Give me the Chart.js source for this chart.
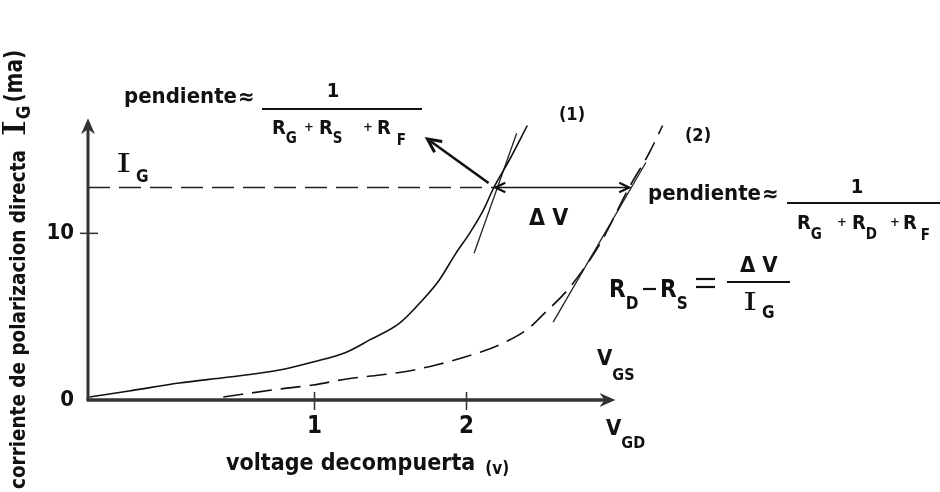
<!DOCTYPE html>
<html>
<head>
<meta charset="utf-8">
<script src="https://cdn.jsdelivr.net/npm/chart.js@4.4.1/dist/chart.umd.min.js"></script>
<style>
  html, body { margin: 0; padding: 0; background: #fff; }
  #wrap { width: 940px; height: 492px; }
</style>
</head>
<body>
<div id="wrap"><canvas id="mycanvas" width="940" height="492"></canvas></div>
<script>
// curva (1): corriente de compuerta contra V_GS
var curve1_v = [-0.48, -0.22, 0.11, 0.44, 0.77, 0.99, 1.21, 1.36, 1.56, 1.71, 1.82, 1.93, 2.02, 2.11, 2.18, 2.28, 2.40];
var curve1_i = [0.18, 0.54, 1.02, 1.38, 1.80, 2.28, 2.87, 3.59, 4.61, 5.99, 7.19, 8.80, 10.0, 11.38, 12.75, 14.37, 16.47];

// curva (2): corriente de compuerta contra V_GD
var curve2_v = [0.40, 0.77, 0.99, 1.21, 1.43, 1.58, 1.80, 2.09, 2.24, 2.41, 2.50, 2.68, 2.88, 3.07, 3.20, 3.29];
var curve2_i = [0.18, 0.66, 0.90, 1.26, 1.50, 1.68, 2.10, 2.87, 3.41, 4.31, 5.09, 6.77, 9.40, 12.75, 14.79, 16.47];

// tangentes (pendientes) en el punto I_G
var tangent1_v = [2.05, 2.33];
var tangent1_i = [8.8, 16.0];
var tangent2_v = [2.57, 3.18];
var tangent2_i = [4.67, 14.25];

// nivel de corriente I_G y el salto de voltaje entre las dos curvas
var ig_level = 12.75;
var deltav_v = [2.19, 3.07];
var pointer_v = [2.145, 1.743];
var pointer_i = [13.02, 15.66];

var x_ticks = [1, 2];
var y_ticks = [0, 10];
var x_axis_end = 2.98;
var y_axis_end = 16.9;

var F = "'Liberation Sans Narrow', 'DejaVu Sans Condensed', sans-serif";

function pts(xs, ys) {
	return xs.map(function(v, k) { return { x: v, y: ys[k] }; });
}

function line(ctx, x1, y1, x2, y2, w) {
	ctx.lineWidth = w;
	ctx.beginPath();
	ctx.moveTo(x1, y1);
	ctx.lineTo(x2, y2);
	ctx.stroke();
}

// open arrow head at (x, y) pointing along angle a
function chevron(ctx, x, y, a, len, w) {
	ctx.lineWidth = w;
	ctx.beginPath();
	ctx.moveTo(x - len * Math.cos(a - 0.45), y - len * Math.sin(a - 0.45));
	ctx.lineTo(x, y);
	ctx.lineTo(x - len * Math.cos(a + 0.45), y - len * Math.sin(a + 0.45));
	ctx.stroke();
}

function txt(ctx, s, x, y, size, align) {
	ctx.font = 'bold ' + size + 'px ' + F;
	ctx.textAlign = align || 'left';
	ctx.textBaseline = 'alphabetic';
	ctx.fillText(s, x, y);
	return ctx.measureText(s).width;
}

// letter with subscript right after it, returns total width
function sub(ctx, s, b, x, y, size, bsize, drop, gap) {
	var w = txt(ctx, s, x, y, size) + (gap || 0);
	return w + txt(ctx, b, x + w, y + drop, bsize);
}

// the serif "I" used for I_G
function bigI(ctx, x, y, size) {
	ctx.save();
	ctx.translate(x, y);
	ctx.scale(1.5, 1);
	ctx.font = size + "px 'DejaVu Serif'";
	ctx.textAlign = 'left';
	ctx.textBaseline = 'alphabetic';
	ctx.fillText('I', 0, 0);
	var w = ctx.measureText('I').width * 1.5;
	ctx.restore();
	return w;
}

var sketch = {
	id: 'sketch',
	afterDatasetsDraw: function(chart) {
		var ctx = chart.ctx;
		var xs = chart.scales.x, ys = chart.scales.y;
		var x0 = xs.getPixelForValue(xs.min), y0 = ys.getPixelForValue(0);
		var xe = xs.getPixelForValue(x_axis_end), ye = ys.getPixelForValue(y_axis_end);

		ctx.save();
		ctx.strokeStyle = '#333';
		ctx.fillStyle = '#333';
		ctx.lineCap = 'butt';

		// ejes
		line(ctx, x0, y0, x0, ye + 6, 3);
		line(ctx, x0 - 1.5, y0, xe - 6, y0, 3.5);
		ctx.beginPath();
		ctx.moveTo(x0, ye);
		ctx.lineTo(x0 - 7, ye + 16);
		ctx.lineTo(x0, ye + 11);
		ctx.lineTo(x0 + 7, ye + 16);
		ctx.closePath();
		ctx.fill();
		ctx.beginPath();
		ctx.moveTo(xe, y0);
		ctx.lineTo(xe - 16, y0 - 7);
		ctx.lineTo(xe - 11, y0);
		ctx.lineTo(xe - 16, y0 + 7);
		ctx.closePath();
		ctx.fill();

		// marcas de los ejes
		x_ticks.forEach(function(v) {
			var px = xs.getPixelForValue(v);
			line(ctx, px, y0 - 8, px, y0 + 10, 1.5);
		});
		y_ticks.forEach(function(v) {
			if (v === 0) return;
			var py = ys.getPixelForValue(v);
			line(ctx, x0 - 8, py, x0 + 10, py, 1.5);
		});

		ctx.strokeStyle = '#111';
		ctx.fillStyle = '#111';

		// flechas de delta V y del indicador de pendiente
		var yg = ys.getPixelForValue(ig_level);
		var a1 = xs.getPixelForValue(deltav_v[0]), a2 = xs.getPixelForValue(deltav_v[1]);
		chevron(ctx, a1, yg, Math.PI, 11, 2.2);
		chevron(ctx, a2, yg, 0, 11, 2.2);
		var p1x = xs.getPixelForValue(pointer_v[0]), p1y = ys.getPixelForValue(pointer_i[0]);
		var p2x = xs.getPixelForValue(pointer_v[1]), p2y = ys.getPixelForValue(pointer_i[1]);
		chevron(ctx, p2x, p2y, Math.atan2(p2y - p1y, p2x - p1x), 15, 3);

		// pendiente de la curva (1)
		txt(ctx, 'pendiente', 124, 103, 22);
		txt(ctx, '\u2248', 238, 104, 22);
		txt(ctx, '1', 333, 97, 20, 'center');
		line(ctx, 262, 109, 422, 109, 1.8);
		sub(ctx, 'R', 'G', 272, 134, 20, 15, 9);
		txt(ctx, '+', 304, 131, 13);
		sub(ctx, 'R', 'S', 319, 134, 20, 15, 9);
		txt(ctx, '+', 363, 131, 13);
		sub(ctx, 'R', 'F', 377, 134, 20, 15, 11, 6);

		bigI(ctx, 116, 172, 26);
		txt(ctx, 'G', 136, 182, 17);

		txt(ctx, '(1)', 572, 120, 18, 'center');
		txt(ctx, '(2)', 698, 141, 18, 'center');
		txt(ctx, '\u0394 V', 529, 225, 23);

		// pendiente de la curva (2)
		txt(ctx, 'pendiente', 648, 200, 22);
		txt(ctx, '\u2248', 762, 201, 22);
		txt(ctx, '1', 857, 193, 20, 'center');
		line(ctx, 787, 203, 940, 203, 1.8);
		sub(ctx, 'R', 'G', 797, 229, 20, 15, 10);
		txt(ctx, '+', 837, 226, 13);
		sub(ctx, 'R', 'D', 852, 229, 20, 15, 10);
		txt(ctx, '+', 890, 226, 13);
		sub(ctx, 'R', 'F', 903, 229, 20, 15, 11, 4);

		// R_D - R_S = delta V / I_G
		sub(ctx, 'R', 'D', 609, 297, 24, 17, 12);
		line(ctx, 643, 289, 656, 289, 2.2);
		sub(ctx, 'R', 'S', 660, 297, 24, 17, 12);
		line(ctx, 696, 279, 715, 279, 2.2);
		line(ctx, 696, 287, 715, 287, 2.2);
		txt(ctx, '\u0394 V', 740, 272, 22);
		line(ctx, 727, 282, 790, 282, 1.8);
		bigI(ctx, 743, 310, 24);
		txt(ctx, 'G', 762, 318, 17);

		sub(ctx, 'V', 'GS', 597, 365, 22, 16, 15);
		sub(ctx, 'V', 'GD', 606, 435, 22, 16, 13);

		// titulo del eje x
		var w = txt(ctx, 'voltage decompuerta', 226, 470, 23);
		txt(ctx, '(v)', 226 + w + 10, 474, 17);

		// titulo del eje y, girado
		ctx.save();
		ctx.translate(25, 489);
		ctx.rotate(-Math.PI / 2);
		ctx.scale(0.93, 1);
		var tw = txt(ctx, 'corriente de polarizacion directa', 0, 0, 22);
		var iw = bigI(ctx, tw + 14, 0, 32);
		txt(ctx, 'G', tw + 14 + iw, 5, 20);
		txt(ctx, '(ma)', tw + 14 + iw + 18, -3, 24);
		ctx.restore();

		ctx.restore();
	}
};

var chartdata = {
	datasets: [
		{
			label: '(1)',
			data: pts(curve1_v, curve1_i),
			showLine: true,
			borderColor: '#111',
			borderWidth: 1.6,
			pointRadius: 0,
			cubicInterpolationMode: 'monotone',
			fill: false
		},
		{
			label: '(2)',
			data: pts(curve2_v, curve2_i),
			showLine: true,
			borderColor: '#111',
			borderWidth: 1.6,
			borderDash: [20, 9],
			pointRadius: 0,
			cubicInterpolationMode: 'monotone',
			fill: false
		},
		{
			label: 'tangente 1',
			data: pts(tangent1_v, tangent1_i),
			showLine: true,
			borderColor: '#222',
			borderWidth: 1.3,
			pointRadius: 0
		},
		{
			label: 'tangente 2',
			data: pts(tangent2_v, tangent2_i),
			showLine: true,
			borderColor: '#222',
			borderWidth: 1.3,
			pointRadius: 0
		},
		{
			label: 'I_G',
			data: [{ x: -0.49, y: ig_level }, { x: deltav_v[0], y: ig_level }],
			showLine: true,
			borderColor: '#222',
			borderWidth: 1.6,
			borderDash: [22, 9],
			pointRadius: 0
		},
		{
			label: 'delta V',
			data: pts(deltav_v, [ig_level, ig_level]),
			showLine: true,
			borderColor: '#111',
			borderWidth: 1.6,
			pointRadius: 0
		},
		{
			label: 'indicador',
			data: pts(pointer_v, pointer_i),
			showLine: true,
			borderColor: '#111',
			borderWidth: 2.6,
			pointRadius: 0
		}
	]
};

var ctx = document.getElementById('mycanvas');

var LineGraph = new Chart(ctx, {
	type: 'scatter',
	data: chartdata,
	options: {
		responsive: false,
		animation: false,
		layout: { padding: { left: 0, right: 5, top: 0, bottom: 0 } },
		plugins: {
			legend: { display: false },
			tooltip: { enabled: false }
		},
		scales: {
			x: {
				type: 'linear',
				min: -0.49,
				max: 5.082,
				afterFit: function(s) { s.height = 92; s.paddingLeft = 0; s.paddingRight = 0; },
				afterBuildTicks: function(s) { s.ticks = x_ticks.map(function(v) { return { value: v }; }); },
				ticks: { color: '#111', font: { family: F, size: 24, weight: 'bold' }, padding: 12, maxRotation: 0, autoSkip: false },
				grid: { display: false, drawTicks: false },
				border: { display: false }
			},
			y: {
				min: 0,
				max: 24,
				afterFit: function(s) { s.width = 88; s.paddingTop = 0; s.paddingBottom = 0; },
				afterBuildTicks: function(s) { s.ticks = y_ticks.map(function(v) { return { value: v }; }); },
				ticks: { color: '#111', font: { family: F, size: 22, weight: 'bold' }, padding: 14, autoSkip: false },
				grid: { display: false, drawTicks: false },
				border: { display: false }
			}
		}
	},
	plugins: [sketch]
});
</script>
</body>
</html>
